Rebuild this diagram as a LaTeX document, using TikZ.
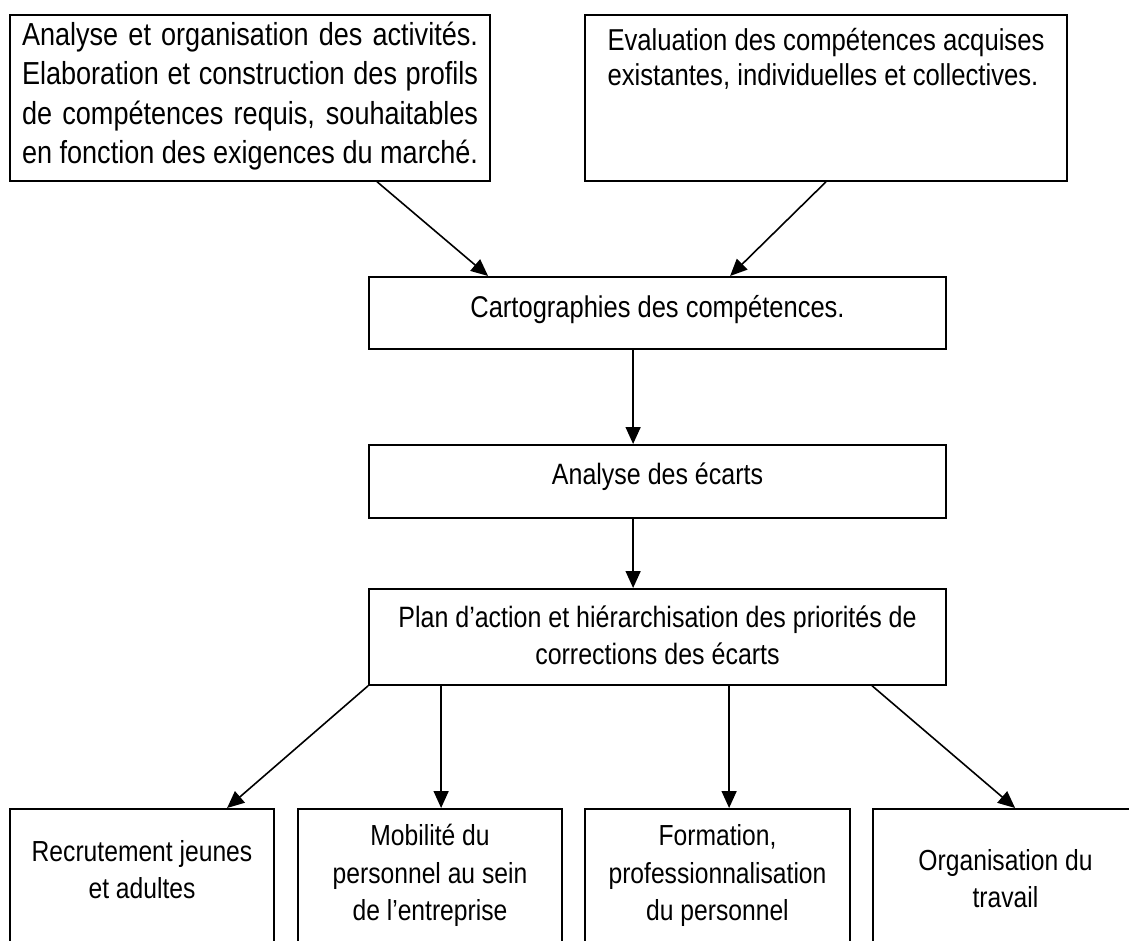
\documentclass[tikz,border=0pt]{standalone}
\usepackage{fontspec}
\setmainfont{Liberation Sans}[FakeStretch=0.85]
\usetikzlibrary{arrows.meta,calc}
\tikzset{
  box/.style={draw, line width=1.8pt, rectangle, inner sep=0pt, anchor=north, align=center},
  arr/.style={line width=1.6pt, -{Triangle[length=17pt,width=15pt]}},
  fmid/.style={font=\fontsize{29.4}{37}\selectfont},
  fbot/.style={font=\fontsize{29}{37.5}\selectfont},
}
\begin{document}
\begin{tikzpicture}[x=1pt,y=-1pt]
\useasboundingbox (0,0) rectangle (1129,941);
\clip (0,0) rectangle (1129,941);
% top boxes
\node[box, minimum width=480pt, text height=149pt, text depth=17pt, align=left,
      font=\fontsize{31.85}{39.6}\selectfont] (tl) at (250,14)
  {\makebox[456pt][s]{Analyse et organisation des activités.}\\
   \makebox[456pt][s]{Elaboration et construction des profils}\\
   \makebox[456pt][s]{de compétences requis, souhaitables}\\
   \makebox[456pt][l]{en fonction des exigences du marché.}};
\node[box, minimum width=482pt, text height=71pt, text depth=95pt, align=left,
      font=\fontsize{30.2}{35}\selectfont] (tr) at (826,14)
  {\makebox[437pt][s]{Evaluation des compétences acquises}\\
   \makebox[437pt][l]{existantes, individuelles et collectives.}};
% middle boxes
\node[box, font=\fontsize{30}{37}\selectfont, minimum width=577pt, text height=41pt, text depth=31pt] (cart) at (657.5,276)
  {Cartographies des compétences.};
\node[box, fmid, minimum width=577pt, text height=40pt, text depth=33pt] (ana) at (657.5,444)
  {Analyse des écarts};
\node[box, fmid, minimum width=577pt, text height=76pt, text depth=20pt] (plan) at (657.5,588)
  {Plan d’action et hiérarchisation des priorités de\\corrections des écarts};
% bottom boxes
\node[box, fbot, minimum width=264pt, text height=90pt, text depth=72pt] (b1) at (142,808)
  {Recrutement jeunes\\et adultes};
\node[box, fbot, minimum width=264pt, text height=112pt, text depth=50pt] (b2) at (430,808)
  {Mobilité du\\personnel au sein\\de l’entreprise};
\node[box, fbot, minimum width=265pt, text height=112pt, text depth=50pt] (b3) at (717.5,808)
  {Formation,\\professionnalisation\\du personnel};
\node[box, fbot, minimum width=265pt, text height=99pt, text depth=63pt] (b4) at (1005.5,808)
  {Organisation du\\travail};
% connectors
\draw[arr] ($(tl.south west)+(368,0)$) -- ($(cart.north west)+(120,0)$);
\draw[arr] (tr.south) -- ($(cart.north west)+(362,0)$);
\draw[arr] ($(cart.south west)+(265,0)$) -- ($(ana.north west)+(265,0)$);
\draw[arr] ($(ana.south west)+(265,0)$) -- ($(plan.north west)+(265,0)$);
\draw[arr] (plan.south west) -- ($(b1.north west)+(218,0)$);
\draw[arr] ($(plan.south west)+(73,0)$) -- ($(b2.north west)+(144,0)$);
\draw[arr] ($(plan.south west)+(361,0)$) -- ($(b3.north west)+(145,0)$);
\draw[arr] ($(plan.south west)+(504,0)$) -- ($(b4.north west)+(143,0)$);
\end{tikzpicture}
\end{document}
